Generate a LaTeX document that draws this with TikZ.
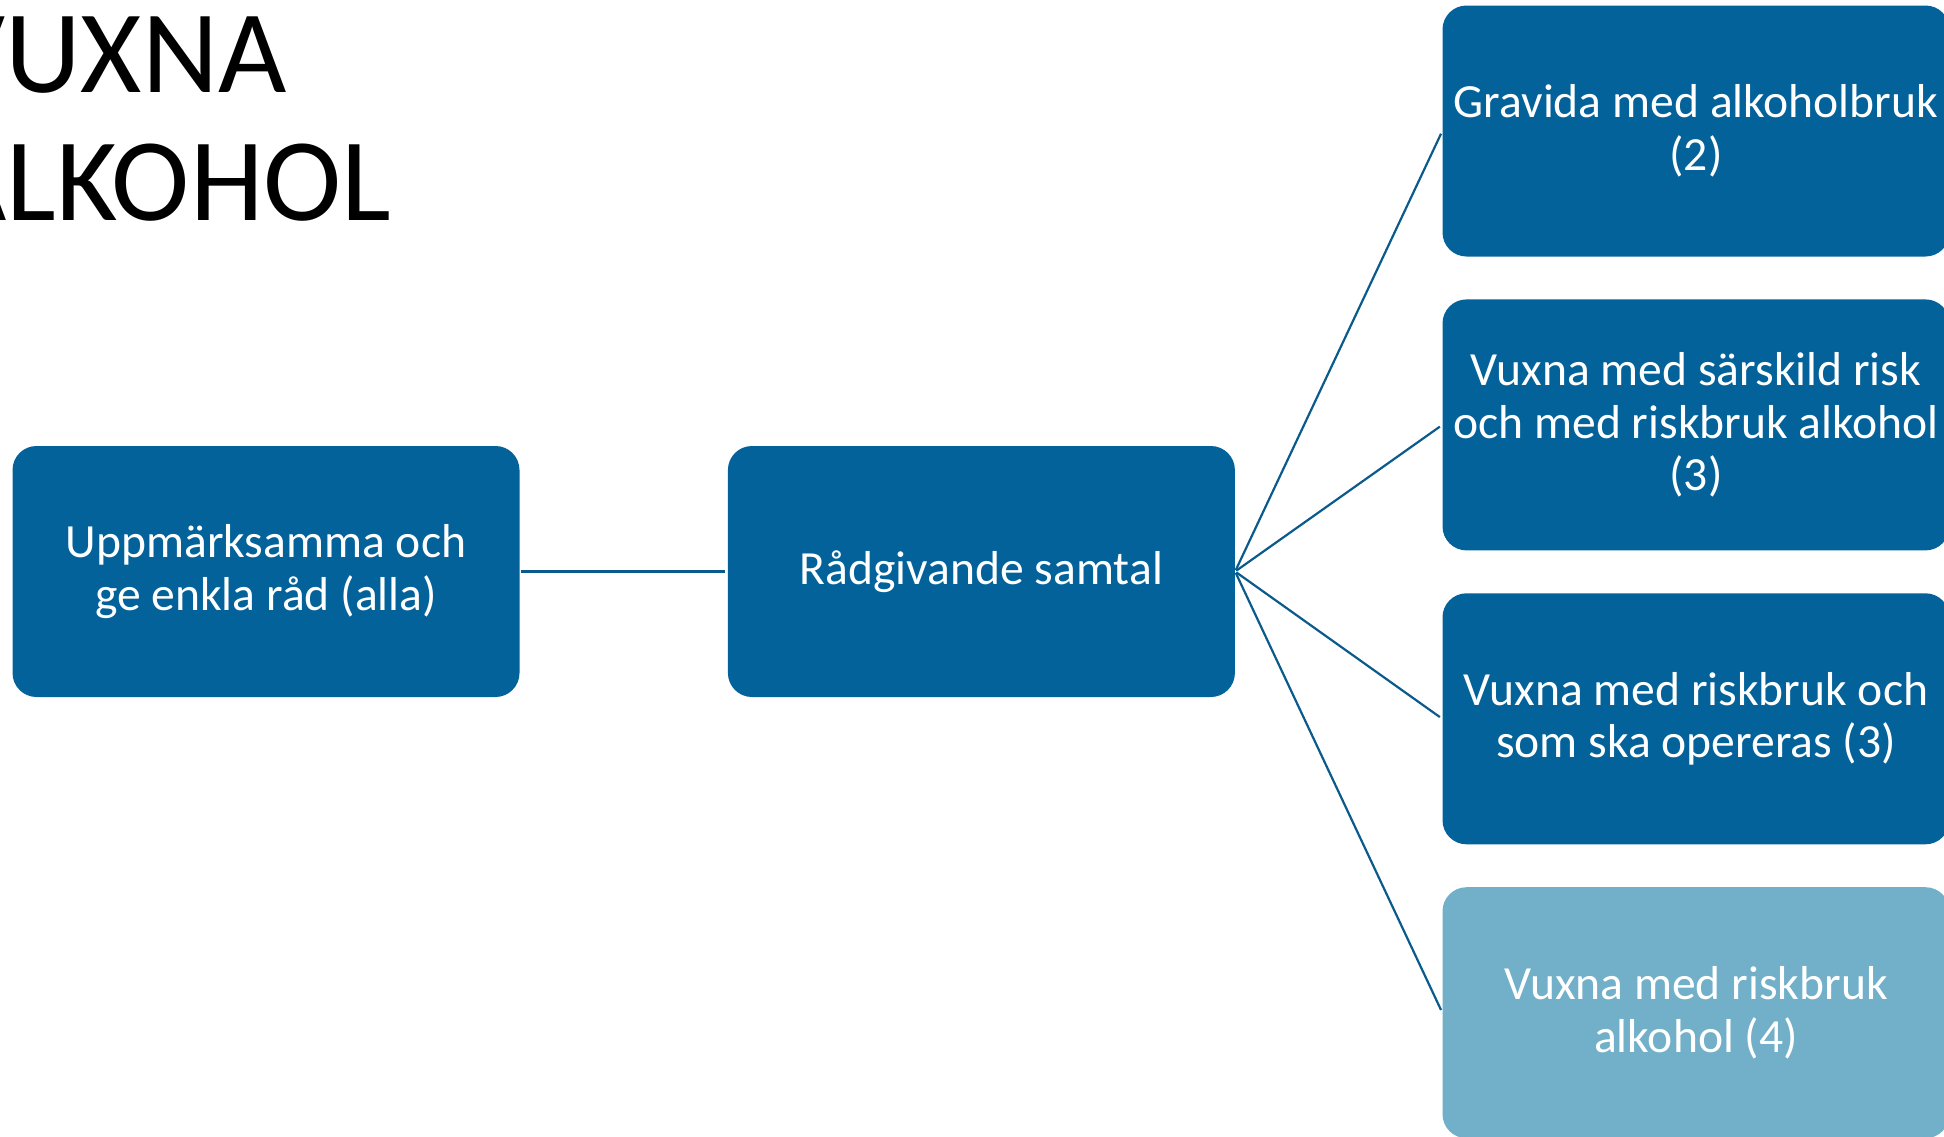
\documentclass[tikz,border=0pt]{standalone}
\usepackage{fontspec}
\setmainfont{Carlito}
\usetikzlibrary{positioning}
\definecolor{boxblue}{HTML}{03629A}
\definecolor{lightblue}{HTML}{72B0C9}
\definecolor{linkblue}{HTML}{0B5A8C}

\begin{document}
\begin{tikzpicture}[x=1pt,y=-1pt,node distance=42.5pt,
    box/.style={rectangle,rounded corners=24pt,fill=boxblue,text=white,
      minimum width=507pt,minimum height=251pt,inner sep=0pt,align=center,
      font=\fontsize{47.6}{52.5}\selectfont},
    lightbox/.style={box,fill=lightblue},
    link/.style={draw=linkblue,line width=2.2pt,shorten <=1.5pt,shorten >=3pt},
    heading/.style={anchor=base west,inner sep=0pt,font=\fontsize{118}{128}\selectfont}]
    \useasboundingbox (0,0) rectangle (1944,1136);
    % title, cut at the left edge
    \node[heading](title_a) at (-62,92){VUXNA};
    \node[heading](title_b) at (-62,220){ALKOHOL};
    % steps
    \node[box](upp) at (266,571.5){Uppmärksamma och\\ge enkla råd (alla)};
    \node[box](rad)[right=208pt of upp]{Rådgivande samtal};
    \node[box](grav) at (1696,131){Gravida med alkoholbruk\\(2)};
    \node[box](sarskild)[below=of grav]{Vuxna med särskild risk\\och med riskbruk alkohol\\(3)};
    \node[box](opereras)[below=of sarskild]{Vuxna med riskbruk och\\som ska opereras (3)};
    \node[lightbox](riskbruk)[below=of opereras]{Vuxna med riskbruk\\alkohol (4)};
    \path[link]
    (upp) edge (rad)
    (rad.east) edge (grav.west)
               edge (sarskild.west)
               edge (opereras.west)
               edge (riskbruk.west);
\end{tikzpicture}
\end{document}
